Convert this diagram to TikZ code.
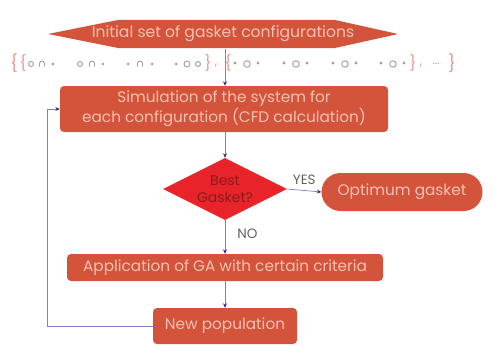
\documentclass[tikz,border=0pt]{standalone}
\usepackage{fontspec}
\setmainfont{Poppins}
\usetikzlibrary{shapes.geometric,arrows.meta}
\definecolor{boxred}{HTML}{D4533B}
\definecolor{boxtext}{HTML}{F4C2B2}
\definecolor{diared}{HTML}{E8232A}
\definecolor{diatext}{HTML}{8E1B1B}
\definecolor{linkblue}{HTML}{7C80C6}
\definecolor{tipblue}{HTML}{2C3087}
\definecolor{icongray}{HTML}{A0A0A0}
\definecolor{bracered}{HTML}{E39A8E}
\definecolor{labelgray}{HTML}{606060}
\begin{document}
\begin{tikzpicture}[x=1pt,y=-1pt,
  box/.style={fill=boxred, draw=none, rounded corners=4pt, text=boxtext,
    font=\fontsize{15.3}{20}\selectfont, align=center, inner sep=0pt},
  link/.style={draw=linkblue, line width=0.7pt,
    -{Stealth[length=4.5pt,width=4pt,color=tipblue]}},
  lbl/.style={font=\fontsize{13.5}{15}\selectfont, text=labelgray, inner sep=2pt},
  brace/.style={font=\fontsize{17}{20}\selectfont, text=bracered, inner sep=0pt},
  ring/.style={draw=icongray, line width=0.9pt},
  dotmark/.style={fill=icongray}]
\path[use as bounding box] (0,0) rectangle (494,361);

% initial hexagon
\fill[boxred] (48,34) -- (118,20) -- (335,20) -- (398,34) -- (335,48) -- (118,48) -- cycle;
\node[font=\fontsize{15.6}{18}\selectfont, text=boxtext, inner sep=0pt] (init) at (223,34) {Initial set of gasket configurations};

% set of configurations
\node[brace] (b1) at (14,63) {\{};
\node[brace, font=\fontsize{15}{18}\selectfont] (b2) at (23,63) {\{};
\node[brace, font=\fontsize{15}{18}\selectfont] (b3) at (208,63) {\}};
\node[brace, font=\fontsize{12}{14}\selectfont] (c1) at (216,66) {,};
\node[brace, font=\fontsize{15}{18}\selectfont] (b4) at (228,63) {\{};
\node[brace, font=\fontsize{15}{18}\selectfont] (b5) at (413,63) {\}};
\node[brace, font=\fontsize{12}{14}\selectfont] (c2) at (421,66) {,};
\node[brace, font=\fontsize{12}{14}\selectfont] (dots) at (436,64) {…};
\node[brace] (b6) at (452,63) {\}};
% group 1
\draw[ring] (31,64) circle (2.5pt);
\draw[ring] (39.5,66.5) -- (39.5,63.5) arc (180:0:2.5pt) -- (44.5,66.5);
\fill[dotmark] (53,64) circle (1.5pt);
% group 2
\draw[ring] (80,64) circle (2.5pt);
\draw[ring] (89.5,66.5) -- (89.5,63.5) arc (180:0:2.5pt) -- (94.5,66.5);
\fill[dotmark] (103,64) circle (1.3pt);
% group 3
\fill[dotmark] (128,64) circle (1.5pt);
\draw[ring] (137.5,66.5) -- (137.5,63.5) arc (180:0:2.5pt) -- (142.5,66.5);
\fill[dotmark] (152,64) circle (1.5pt);
% group 4
\fill[dotmark] (176,64) circle (1.5pt);
\draw[ring] (187,64) circle (3pt);
\draw[ring] (198,64) circle (2.5pt);
% groups 5-8
\foreach \gx in {235,284,333,381} {
  \fill[dotmark] (\gx,63) circle (1.6pt);
  \draw[ring] (\gx+12,64) circle (3.3pt);
  \fill[dotmark] (\gx+23,63) circle (1.6pt);
}

% process boxes
\node[box, minimum width=328pt, minimum height=46pt] (sim) at (224,109)
  {Simulation of the system for\\each configuration (CFD calculation)};
\node[diamond, aspect=2, fill=diared, inner sep=0pt, minimum width=124pt, minimum height=62pt,
  text=diatext, align=center, font=\fontsize{14}{17}\selectfont] (best) at (225,189) {Best\\Gasket?};
\node[box, rounded corners=19pt, minimum width=161pt, minimum height=38pt] (opt) at (402,192) {Optimum gasket};
\node[box, minimum width=316pt, minimum height=27pt] (ga) at (225,267.5) {Application of GA with certain criteria};
\node[box, minimum width=144pt, minimum height=36pt] (newpop) at (225,326) {New population};

% connectors
\coordinate (hexbot) at (225,49);
\coordinate (loopx) at (47,0);
\draw[link] (hexbot) -- (sim.north -| hexbot);
\draw[link] (sim.south -| best.north) -- (best.north);
\draw[link] (best.east) -- node[lbl, above, yshift=4pt] {YES} (opt.west);
\draw[link] (best.south) -- node[lbl, right, xshift=10pt, yshift=3pt] {NO} (ga.north -| best.south);
\draw[link] (ga.south -| best.south) -- (newpop.north);
\draw[link] (newpop.west) -- (newpop.west -| loopx) |- (sim.west);
\end{tikzpicture}
\end{document}
